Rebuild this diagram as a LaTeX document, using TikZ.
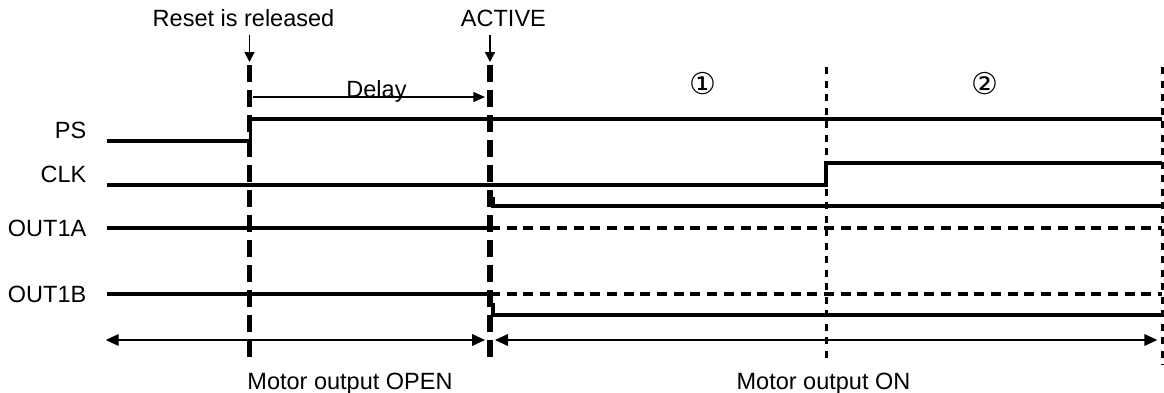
\documentclass[tikz,border=0pt]{standalone}
\usepackage{fontspec}
\setmainfont{Liberation Sans}
\newfontfamily\symfont{DejaVu Sans}
\usetikzlibrary{arrows.meta}
\begin{document}
\begin{tikzpicture}[x=1pt,y=-1pt,
  lbl/.style={inner sep=0pt, font=\fontsize{23.5}{28}\selectfont},
  circ/.style={inner sep=0pt, font=\symfont\fontsize{30}{34}\selectfont},
  sig/.style={line width=3.2pt},
  hiz/.style={line width=3.2pt, dash pattern=on 10pt off 6.7pt},
  evline/.style={line width=5.5pt, dash pattern=on 17pt off 8pt},
  perline/.style={line width=3pt, dash pattern=on 7pt off 6.5pt},
  ptr/.style={line width=1.4pt, -{Triangle[length=10pt,width=10pt]}},
  dly/.style={line width=1.4pt, -{Triangle[length=11.7pt,width=10pt]}},
  span/.style={line width=1.4pt, {Triangle[length=13pt,width=11.7pt]}-{Triangle[length=13pt,width=11.7pt]}},
]
\useasboundingbox (0,0) rectangle (1164,392);

% labels
\node[lbl, anchor=base east] (ps)  at (86.5,138.3) {PS};
\node[lbl, anchor=base east] (clk) at (86.5,182.7) {CLK};
\node[lbl, anchor=base east] (oa)  at (86.5,236.5) {OUT1A};
\node[lbl, anchor=base east] (ob)  at (86.5,302) {OUT1B};
\node[lbl, anchor=base] (rst) at (243.5,26) {Reset is released};
\node[lbl, anchor=base] (act) at (503.4,26) {ACTIVE};
\node[lbl, anchor=base] (dl)  at (376.5,97) {Delay};
\node[circ] (c1) at (702.7,84) {①};
\node[circ] (c2) at (985,84) {②};
\node[lbl, anchor=base] (mopen) at (350,389) {Motor output OPEN};
\node[lbl, anchor=base] (mon)   at (823.5,389) {Motor output ON};

% coordinates
\coordinate (psA) at (106.7,141);
\coordinate (psB) at (250.5,141);
\coordinate (psC) at (250.5,119);
\coordinate (psD) at (1162,119);
\coordinate (ckA) at (106.7,185);
\coordinate (ckB) at (826,185);
\coordinate (ckC) at (826,163);
\coordinate (ckD) at (1162,163);
\coordinate (ck2A) at (493,197);
\coordinate (ck2B) at (493,206);
\coordinate (ck2C) at (1162,206);
\coordinate (oaA) at (106.7,228);
\coordinate (oaB) at (490,228);
\coordinate (oaC) at (1162,228);
\coordinate (obA) at (106.7,294);
\coordinate (obB) at (490,294);
\coordinate (obC) at (1162,294);
\coordinate (ob2A) at (493,303);
\coordinate (ob2B) at (493,315);
\coordinate (ob2C) at (1162,315);
\coordinate (r1t) at (249.5,35);
\coordinate (r1b) at (249.5,62);
\coordinate (a1t) at (490,35);
\coordinate (a1b) at (490,62);
\coordinate (dA) at (253,97);
\coordinate (dB) at (485,97);
\coordinate (e1t) at (249.5,65);
\coordinate (e1b) at (249.5,357);
\coordinate (e2t) at (490,65);
\coordinate (e2b) at (490,357);
\coordinate (p1t) at (826,67);
\coordinate (p1b) at (826,360);
\coordinate (p2t) at (1162,67);
\coordinate (p2b) at (1162,365);
\coordinate (s1A) at (105.7,340);
\coordinate (s1B) at (485,340);
\coordinate (s2A) at (495,340);
\coordinate (s2B) at (1157.3,340);

% signals
\draw[sig] (psA) -- (psB) -- (psC) -- (psD);
\draw[sig] (ckA) -- (ckB) -- (ckC) -- (ckD);
\draw[sig] (ck2A) -- (ck2B) -- (ck2C);
\draw[sig] (oaA) -- (oaB);
\draw[hiz] (oaB) -- (oaC);
\draw[sig] (obA) -- (obB);
\draw[hiz] (obB) -- (obC);
\draw[sig] (ob2A) -- (ob2B) -- (ob2C);

% arrows
\draw[ptr] (r1t) -- (r1b);
\draw[ptr] (a1t) -- (a1b);
\draw[dly] (dA) -- (dB);
\draw[span] (s1A) -- (s1B);
\draw[span] (s2A) -- (s2B);

% event lines
\draw[evline] (e1t) -- (e1b);
\draw[evline] (e2t) -- (e2b);
\draw[perline] (p1t) -- (p1b);
\draw[perline] (p2t) -- (p2b);
\end{tikzpicture}
\end{document}
